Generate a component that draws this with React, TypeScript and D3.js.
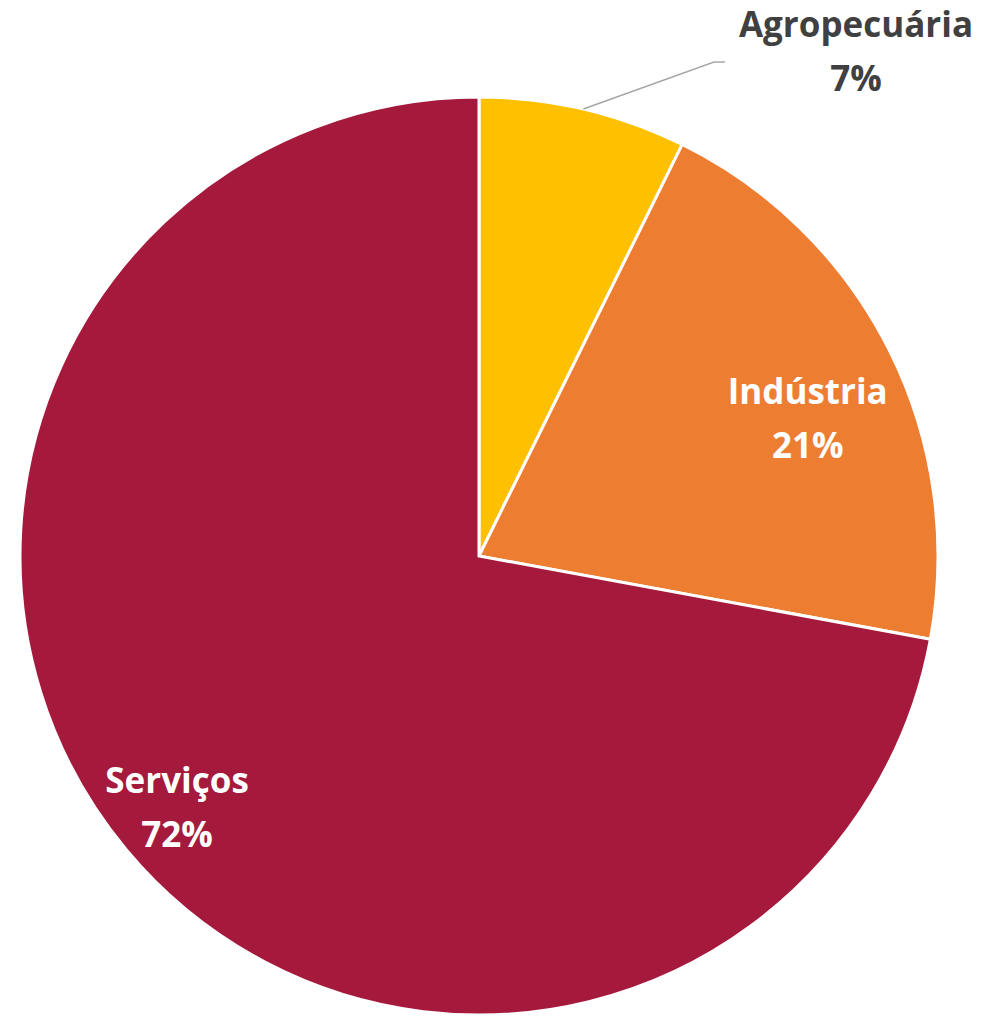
import React from "react";
import * as d3 from "d3";

const categories = ["Agropecuária", "Indústria", "Serviços"];
const values = [7.3, 20.6, 72.1];
const labels = ["7%", "21%", "72%"];
const colors = ["#FFC000", "#ED7D31", "#A5193C"];
const textColors = ["#404040", "#FFFFFF", "#FFFFFF"];

const W = 987;
const H = 1023;
const cx = 479;
const cy = 556;
const R = 459;
const labelRadiusFactor = [0, 0.776, 0.856];
const labelAngleNudgeDeg = [0, 4, 0];

export default function App() {
  const pie = d3.pie<number>().sort(null).value((d) => d)(values);
  const arc = d3.arc<d3.PieArcDatum<number>>().innerRadius(0).outerRadius(R);
  const fontSize = 35;
  const lineGap = 54;
  const capHalf = fontSize * 0.714 / 2;

  return (
    <svg
      width={W}
      height={H}
      style={{ position: "absolute", left: 0, top: 0, background: "#fff" }}
      fontFamily="'Open Sans', sans-serif"
    >
      <g transform={`translate(${cx},${cy})`}>
        {pie.map((p, i) => (
          <path key={i} d={arc(p) || ""} fill={colors[i]} stroke="#fff" strokeWidth={3} strokeLinejoin="miter" />
        ))}
        {pie.map((p, i) => {
          if (i === 0) {
            const mid = (p.startAngle + p.endAngle) / 2;
            const sx = Math.sin(mid) * R;
            const sy = -Math.cos(mid) * R;
            const ex = 714 - cx;
            const ey = 62 - cy;
            const tx = 856 - cx;
            return (
              <g key={i}>
                <polyline
                  points={`${sx},${sy} ${ex},${ey} ${ex + 11},${ey}`}
                  fill="none"
                  stroke="#A6A6A6"
                  strokeWidth={1.5}
                />
                <text x={tx} y={37 - cy} textAnchor="middle" fontSize={fontSize} fontWeight={700} fill={textColors[i]}>
                  {categories[i]}
                </text>
                <text x={tx} y={37 - cy + lineGap} textAnchor="middle" fontSize={fontSize} fontWeight={700} fill={textColors[i]}>
                  {labels[i]}
                </text>
              </g>
            );
          }
          const lr = R * labelRadiusFactor[i];
          const a = (p.startAngle + p.endAngle) / 2 + (labelAngleNudgeDeg[i] * Math.PI) / 180;
          const lx = Math.sin(a) * lr;
          const ly = -Math.cos(a) * lr;
          const y0 = ly - lineGap / 2 + capHalf;
          return (
            <g key={i}>
              <text x={lx} y={y0} textAnchor="middle" fontSize={fontSize} fontWeight={700} fill={textColors[i]}>
                {categories[i]}
              </text>
              <text x={lx} y={y0 + lineGap} textAnchor="middle" fontSize={fontSize} fontWeight={700} fill={textColors[i]}>
                {labels[i]}
              </text>
            </g>
          );
        })}
      </g>
    </svg>
  );
}
